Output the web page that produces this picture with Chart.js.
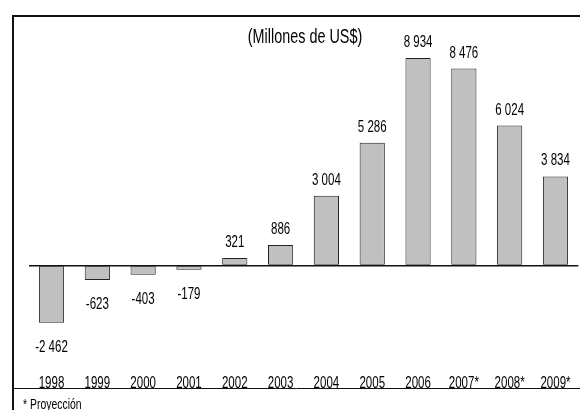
<!DOCTYPE html>
<html>
<head>
<meta charset="utf-8">
<script src="https://cdn.jsdelivr.net/npm/chart.js@4"></script>
<style>
  html, body { margin: 0; padding: 0; background: #fff; }
  #wrap { width: 580px; height: 410px; position: relative; }
</style>
</head>
<body>
<div id="wrap"><canvas id="myChart"></canvas></div>
<script>
const years = ['1998', '1999', '2000', '2001', '2002', '2003', '2004', '2005', '2006', '2007*', '2008*', '2009*'];
const saldo = [-2462, -623, -403, -179, 321, 886, 3004, 5286, 8934, 8476, 6024, 3834];
const titulo = '(Millones de US$)';
const nota = '* Proyección';

const fuente = "'Liberation Sans', Arial, sans-serif";
const estrecho = 0.72; // la fuente original es tipo Arial Narrow

// miles separados con espacio: 8 934
function fmt(v) {
  return String(v).replace(/\B(?=(\d{3})+(?!\d))/g, ' ');
}

// texto comprimido en horizontal
function texto(c, s, x, y, size, align) {
  c.save();
  c.font = size + 'px ' + fuente;
  c.textAlign = align || 'center';
  c.textBaseline = 'alphabetic';
  c.translate(x, y);
  c.scale(estrecho, 1);
  c.fillText(s, 0, 0);
  c.restore();
}

const marco = {
  id: 'marco',
  afterDraw(chart) {
    const c = chart.ctx;
    c.save();
    c.fillStyle = '#000';
    texto(c, titulo, 305, 43, 20);
    texto(c, nota, 23, 409, 14.5, 'left');
    const x = chart.scales.x;
    years.forEach(function(lab, i) {
      texto(c, lab, x.getPixelForValue(i), 388, 16);
    });
    c.strokeStyle = '#111';
    c.lineWidth = 2;
    c.beginPath();
    c.moveTo(13, 410);
    c.lineTo(13, 16);
    c.lineTo(580, 16);
    c.stroke();
    c.lineWidth = 1;
    c.beginPath();
    c.moveTo(13, 388.5);
    c.lineTo(580, 388.5);
    c.stroke();
    c.restore();
  }
};

const etiquetas = {
  id: 'etiquetas',
  afterDatasetsDraw(chart) {
    const c = chart.ctx;
    const meta = chart.getDatasetMeta(0);
    c.save();
    c.fillStyle = '#000';
    meta.data.forEach(function(bar, i) {
      const v = saldo[i];
      const y = v >= 0 ? bar.y - 11 : bar.y + 29;
      texto(c, fmt(v), bar.x, y, 16);
    });
    c.restore();
  }
};

const ctx = document.getElementById('myChart');

new Chart(ctx, {
  type: 'bar',
  data: {
    labels: years,
    datasets: [{
      data: saldo,
      backgroundColor: '#c0c0c0',
      borderColor: '#222',
      borderWidth: 1,
      borderSkipped: false,
      barPercentage: 0.55,
      categoryPercentage: 1
    }]
  },
  options: {
    responsive: true,
    maintainAspectRatio: false,
    animation: false,
    layout: {
      padding: { left: 28.6, right: 1.6, top: 21.6, bottom: 40 }
    },
    plugins: {
      legend: { display: false },
      tooltip: { enabled: false },
      title: { display: false }
    },
    scales: {
      x: {
        grid: { display: false, drawTicks: false },
        border: { display: false },
        ticks: { display: false }
      },
      y: {
        min: -4500,
        max: 10500,
        border: { display: false },
        grid: {
          drawTicks: false,
          lineWidth: 1.5,
          color: function(c) { return c.tick && c.tick.value === 0 ? '#111' : 'rgba(0,0,0,0)'; }
        },
        ticks: { display: false, stepSize: 500 }
      }
    }
  },
  plugins: [marco, etiquetas]
});
</script>
</body>
</html>
